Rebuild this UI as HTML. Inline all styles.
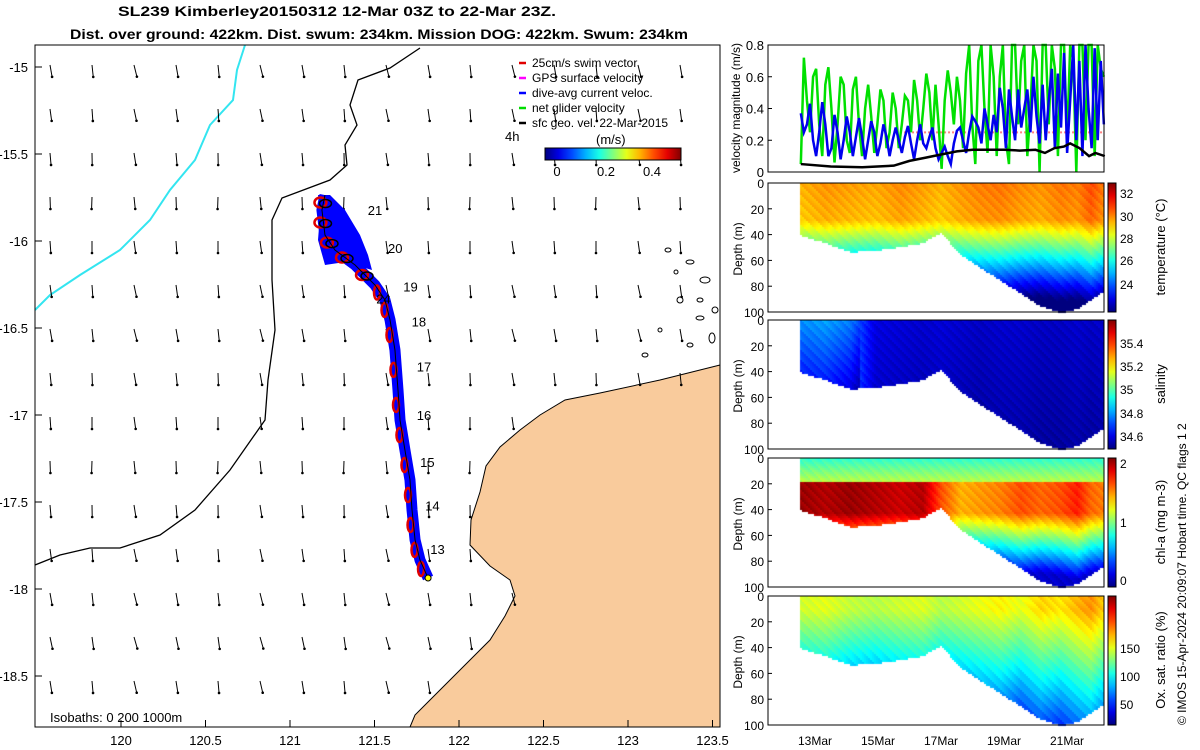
<!DOCTYPE html>
<html><head><meta charset="utf-8"><style>
body{margin:0;background:#fff;}
#wrap{position:relative;width:1200px;height:750px;overflow:hidden;font-family:"Liberation Sans",sans-serif;}
svg text{font-family:"Liberation Sans",sans-serif;}
canvas{position:absolute;left:0;top:0;}
</style></head><body>
<div id="wrap">
<canvas id="cv" width="1200" height="750"></canvas>
<svg id="sv" width="1200" height="750" style="position:absolute;left:0;top:0"></svg>
</div>
<script>
// ---------- data ----------
const lonTicks=[120,120.5,121,121.5,122,122.5,123,123.5];
const latTicks=[-15,-15.5,-16,-16.5,-17,-17.5,-18,-18.5];
const trackLon=[121.817,121.769,121.740,121.722,121.710,121.680,121.651,121.639,121.621,121.592,121.562,121.503,121.385,121.266,121.207,121.189,121.207];
const trackLat=[-17.937,-17.833,-17.718,-17.546,-17.374,-17.201,-17.029,-16.856,-16.626,-16.454,-16.339,-16.253,-16.138,-16.052,-15.966,-15.822,-15.736];
const dayLabels=["13","14","15","16","17","18","19","20","21","24"];
const dayLabelLon=[121.83,121.80,121.77,121.75,121.75,121.72,121.67,121.58,121.46,121.51];
const dayLabelLat=[-17.8,-17.55,-17.3,-17.03,-16.75,-16.49,-16.29,-16.07,-15.85,-16.36];
const arrowAngleByRow=[170,172,175,178,176,172,170,174,176,178,175,172,170,168,171,174];
const velBlue=[0.37,0.25,0.30,0.43,0.20, 0.10,0.25,0.44,0.30,0.10, 0.15,0.36,0.25,0.08,0.20, 0.35,0.25,0.10,0.22,0.34,
 0.22,0.08,0.20,0.32,0.25, 0.10,0.18,0.30,0.22,0.10, 0.20,0.28,0.20,0.12,0.22, 0.29,0.18,0.08,0.20,0.30,
 0.18,0.15,0.22,0.28,0.15, 0.08,0.12,0.16,0.10,0.05, 0.18,0.26,0.28,0.20,0.12, 0.25,0.35,0.32,0.28,0.18,
 0.40,0.30,0.20,0.36,0.25, 0.53,0.40,0.15,0.52,0.35, 0.20,0.52,0.28,0.40,0.52, 0.25,0.60,0.35,0.18,0.55,
 0.20,0.45,0.65,0.15,0.62, 0.28,0.75,0.12,0.45,0.80, 0.20,0.70,0.10,0.80,0.40, 0.15,0.78,0.20,0.70,0.30];
const velGreen=[0.05,0.72,0.45,0.25,0.60, 0.65,0.30,0.10,0.55,0.66, 0.40,0.06,0.30,0.60,0.55, 0.20,0.12,0.52,0.60,0.30,
 0.10,0.40,0.55,0.35,0.12, 0.30,0.52,0.45,0.15,0.25, 0.50,0.40,0.15,0.30,0.48, 0.45,0.25,0.58,0.45,0.20,
 0.40,0.62,0.50,0.20,0.55, 0.30,0.02,0.45,0.64,0.50, 0.30,0.60,0.45,0.15,0.62, 0.80,0.30,0.05,0.70,0.80,
 0.40,0.12,0.80,0.60,0.10, 0.60,0.80,0.20,0.05,0.80, 0.80,0.30,0.70,0.80,0.10, 0.40,0.80,0.70,0.00,0.80,
 0.80,0.30,0.80,0.65,0.10, 0.80,0.80,0.20,0.80,0.70, 0.00,0.80,0.80,0.20,0.80, 0.80,0.10,0.80,0.65,0.60];
const blackDays=[12.55,13.5,14.5,15.5,16.0,16.5,17.0,17.5,18.0,18.5,19.0,19.5,20.0,20.3,20.6,20.9,21.1,21.4,21.7,21.9,22.2];
const velBlack=[0.05,0.035,0.03,0.04,0.07,0.09,0.11,0.13,0.14,0.14,0.14,0.135,0.14,0.12,0.15,0.16,0.18,0.15,0.10,0.12,0.10];
const sectDays=[12.52,13.3,14.1,14.9,15.7,16.4,16.97,17.6,18.2,18.87,19.5,20.14,20.78,21.3,21.73,22.17];
const bottomDepth=[40,46,53,52,49,46,38,55,65,75,85,95,100,97,90,83];
const tempSurf=[29.6,29.9,29.8,29.7,30.0,29.8,29.6,29.9,30.1,30.2,30.0,29.9,30.2,30.1,30.6,30.1];
const salSurf=[34.78,34.80,34.76,34.60,34.59,34.58,34.59,34.58,34.57,34.58,34.58,34.57,34.57,34.58,34.57,34.58];
const chlMax=[1.95,1.9,1.95,1.9,1.85,1.9,1.6,1.4,1.45,1.5,1.6,1.55,1.6,1.7,1.55,1.5];
const oxSurf=[112,115,110,108,112,114,108,112,116,120,115,125,122,130,135,125];
// ---------- helpers ----------
const NS="http://www.w3.org/2000/svg";const sv=document.getElementById('sv');
function el(t,a,p){const e=document.createElementNS(NS,t);for(const k in a)e.setAttribute(k,a[k]);(p||sv).appendChild(e);return e;}
function tx(s,x,y,a,p){const e=el('text',Object.assign({x:x,y:y,'font-size':13,fill:'#000'},a||{}),p);e.textContent=s;return e;}
const mx=lon=>121+(lon-120)*169, my=lat=>67+(-15-lat)*174;
const vx=d=>815+(d-13)*31.5;
function jet(t){t=Math.max(0,Math.min(1,t));const r=Math.max(0,Math.min(1,1.5-Math.abs(4*t-3))),g=Math.max(0,Math.min(1,1.5-Math.abs(4*t-2))),b=Math.max(0,Math.min(1,1.5-Math.abs(4*t-1)));return [r*255|0,g*255|0,b*255|0];}
function interp(xs,ys,x){if(x<=xs[0])return ys[0];for(let i=1;i<xs.length;i++)if(x<=xs[i]){const f=(x-xs[i-1])/(xs[i]-xs[i-1]);return ys[i-1]+f*(ys[i]-ys[i-1]);}return ys[ys.length-1];}
// ---------- title ----------
tx('SL239 Kimberley20150312 12-Mar 03Z to 22-Mar 23Z.',118,16,{'font-weight':'bold','font-size':14,textLength:438,lengthAdjust:'spacingAndGlyphs',});
tx('Dist. over ground: 422km. Dist. swum: 234km. Mission DOG: 422km. Swum: 234km',70,39,{'font-weight':'bold','font-size':14,textLength:618,lengthAdjust:'spacingAndGlyphs',});
// ---------- map ----------
const mapG=el('g',{});
el('rect',{x:35,y:45,width:685,height:682,fill:'#fff'},mapG);
const land=[[720,365],[700,370],[660,380],[600,393],[565,400],[540,415],[520,430],[500,447],[486,466],[480,492],[471,520],[470,545],[490,566],[510,580],[515,596],[505,616],[490,640],[470,660],[450,680],[430,700],[415,715],[410,727],[720,727]];
el('polygon',{points:land.map(p=>p.join(',')).join(' '),fill:'#f9cb9c',stroke:'#000','stroke-width':1,},mapG);
const isl=[[668,250,3,2],[690,262,4,2],[705,280,5,3],[680,300,3,3],[700,318,4,2],[712,338,3,5],[660,330,2,2],[690,345,3,2],[676,272,2,2],[645,355,3,2],[700,300,3,2],[715,310,3,3]];
isl.forEach(i=>el('ellipse',{cx:i[0],cy:i[1],rx:i[2],ry:i[3],fill:'#fff',stroke:'#000','stroke-width':1,},mapG));
el('polyline',{points:'245,45 237,70 233,100 210,125 195,160 170,190 150,220 120,250 80,275 50,295 35,310',fill:'none',stroke:'#33e5f0','stroke-width':2,},mapG);
el('polyline',{points:'420,48 390,68 358,80 350,105 357,125 345,145 347,165 330,180 282,198 272,220 272,280 275,330 268,380 265,420 230,470 195,510 160,535 120,548 90,548 60,555 35,565',fill:'none',stroke:'#000','stroke-width':1.3,},mapG);
function inLand(x,y){let c=false;for(let i=0,j=land.length-1;i<land.length;j=i++){const [xi,yi]=land[i],[xj,yj]=land[j];if(((yi>y)!=(yj>y))&&(x<(xj-xi)*(y-yi)/(yj-yi)+xi))c=!c;}return c;}
let r=0;for(let y=65;y<720;y+=44,r++){for(let x=50;x<715;x+=42){if(inLand(x,y))continue;const a=(arrowAngleByRow[r]+((x/42|0)%3-1)*4)*Math.PI/180;const L=12;const x2=x+L*Math.sin(a),y2=y-L*Math.cos(a);
const ar=el('line',{x1:x,y1:y,x2:x2,y2:y2,stroke:'#000','stroke-width':1},mapG);
el('circle',{cx:x2,cy:y2,r:1.3,fill:'#000'},mapG);}}
// track
const tp=trackLon.map((l,i)=>[mx(l),my(trackLat[i])]);
el('polygon',{points:'318,195 330,195 345,210 360,235 368,255 372,270 345,262 325,265 318,240 320,215',fill:'#0000ff',},mapG);
el('polyline',{points:tp.map(p=>p.join(',')).join(' '),fill:'none',stroke:'#0000ff','stroke-width':11,'stroke-linejoin':'round',},mapG);
for(let i=1;i<tp.length;i++){const [x1,y1]=tp[i-1],[x2,y2]=tp[i];const big=i>11;const e=el('ellipse',{cx:(x1+x2)/2-3,cy:(y1+y2)/2,rx:big?6:3,ry:big?5:7,fill:'none',stroke:'#e00000','stroke-width':2.5},mapG);
 if(big){const b=el('ellipse',{cx:(x1+x2)/2+2,cy:(y1+y2)/2+1,rx:6,ry:4,fill:'none',stroke:'#000','stroke-width':1.5},mapG);}}
el('polyline',{points:tp.map(p=>p.join(',')).join(' '),fill:'none',stroke:'#000','stroke-width':1,},mapG);
el('circle',{cx:tp[0][0],cy:tp[0][1],r:3,fill:'#ff0','stroke':'#000',},mapG);
dayLabels.forEach((d,i)=>tx(d,mx(dayLabelLon[i]),my(dayLabelLat[i]),{},mapG));
tx('4h',505,141,{},mapG);
el('rect',{x:35,y:45,width:685,height:682,fill:'none',stroke:'#000','stroke-width':1,},mapG);
lonTicks.forEach(l=>{el('line',{x1:mx(l),y1:727,x2:mx(l),y2:720,stroke:'#000'},mapG);tx(String(l),mx(l),745,{'text-anchor':'middle',},mapG);});
latTicks.forEach(l=>{el('line',{x1:35,y1:my(l),x2:42,y2:my(l),stroke:'#000'},mapG);tx(String(l),28,my(l)+5,{'text-anchor':'end',},mapG);});
tx('Isobaths: 0   200   1000m',50,722,{'xml:space':'preserve',},mapG);
// legend
const lg=el('g',{});
const le=[['25cm/s swim vector','#e00000'],['GPS surface velocity','#ff00ff'],['dive-avg current veloc.','#0000ff'],['net glider velocity','#00dd00'],['sfc geo. vel. 22-Mar-2015','#000']];
le.forEach((e,i)=>{const y=67+i*15;el('line',{x1:519,y1:y-4,x2:526,y2:y-4,stroke:e[1],'stroke-width':2.5},lg);tx(e[0],532,y,{'font-size':12,},lg);});
tx('(m/s)',596,144,{'font-size':13,},lg);
const gd=el('defs',{});const lgr=el('linearGradient',{id:'jh',x1:0,y1:0,x2:1,y2:0},gd);const lgv=el('linearGradient',{id:'jv',x1:0,y1:1,x2:0,y2:0},gd);
for(let i=0;i<=10;i++){const c=jet(i/10);el('stop',{offset:i/10,'stop-color':`rgb(${c})`},lgr);el('stop',{offset:i/10,'stop-color':`rgb(${c})`},lgv);}
el('rect',{x:545,y:148,width:136,height:12,fill:'url(#jh)',stroke:'#000',},lg);
[['0',557],['0.2',606],['0.4',652]].forEach(t=>tx(t[0],t[1],176,{'text-anchor':'middle',},lg));
// ---------- velocity panel ----------
const vp=el('g',{});
const vy=v=>172-v/0.8*127;
const vd=i=>12.55+i*(22.17-12.55)/(velBlue.length-1);
el('line',{x1:vx(15.7),y1:vy(0.25),x2:1104,y2:vy(0.25),stroke:'#ff8080','stroke-width':2,'stroke-dasharray':'2,2',},vp);
el('polyline',{points:velGreen.map((v,i)=>vx(vd(i))+','+vy(v)).join(' '),fill:'none',stroke:'#00e000','stroke-width':2.5,},vp);
el('polyline',{points:velBlue.map((v,i)=>vx(vd(i))+','+vy(v)).join(' '),fill:'none',stroke:'#0000ee','stroke-width':2.5,},vp);
el('polyline',{points:blackDays.map((d,i)=>vx(d)+','+vy(velBlack[i])).join(' '),fill:'none',stroke:'#000','stroke-width':2.5,},vp);
el('rect',{x:768,y:45,width:336,height:127,fill:'none',stroke:'#000',},vp);
[0,0.2,0.4,0.6,0.8].forEach(v=>{tx(String(v),764,vy(v)+5,{'text-anchor':'end',},vp);el('line',{x1:768,y1:vy(v),x2:772,y2:vy(v),stroke:'#000'},vp);});
tx('velocity magnitude (m/s)',0,0,{transform:'translate(740,108) rotate(-90)','text-anchor':'middle','font-size':12,},vp);
// ---------- sections ----------
const panels=[
 {top:183,name:'temperature',lab:'temperature (°C)',ticks:[[32,193],[30,216],[28,238],[26,260],[24,284]],min:22.8,max:32.5,f:(d,z)=>{const s=interp(sectDays,tempSurf,d);return s-Math.max(0,z-28)*0.105-z*0.01;}},
 {top:320,name:'salinity',lab:'salinity',ticks:[[35.4,343],[35.2,366],[35,389],[34.8,413],[34.6,436]],min:34.5,max:35.55,f:(d,z)=>{const s=interp(sectDays,salSurf,d);return s-(s>34.7?z*0.003:z*0.0004);}},
 {top:458,name:'chl-a',lab:'chl-a (mg m-3)',ticks:[[2,463],[1,522],[0,580]],min:0,max:2,f:(d,z)=>{const m=interp(sectDays,chlMax,d);if(z<18)return 0.85+z*0.015;if(z<42)return m;return Math.max(0.15,m-(z-42)*0.03);}},
 {top:596,name:'oxygen',lab:'Ox. sat. ratio (%)',ticks:[[150,648],[100,676],[50,704]],min:25,max:175,f:(d,z)=>{const s=interp(sectDays,oxSurf,d);return s-Math.max(0,z-10)*0.8;}}];
const cv=document.getElementById('cv').getContext('2d');
panels.forEach(p=>{
 const g=el('g',{});
 const zy=z=>p.top+z*1.29;
 for(let x=800;x<1104;x+=2){const d=13+(x-815)/31.5;const bd=interp(sectDays,bottomDepth,d);
  for(let y=p.top;y<zy(bd);y+=2){const z=(y-p.top)/1.29;const v=p.f(d,z)+((x*7+y*3)%5-2)*0.01*(p.max-p.min);const c=jet((v-p.min)/(p.max-p.min));cv.fillStyle=`rgb(${c})`;cv.fillRect(x,y,2,2);}}
 el('rect',{x:768,y:p.top,width:336,height:129,fill:'none',stroke:'#000',},g);
 [0,20,40,60,80,100].forEach(z=>{tx(String(z),764,zy(z)+5,{'text-anchor':'end','font-size':12,},g);el('line',{x1:768,y1:zy(z),x2:772,y2:zy(z),stroke:'#000'},g);});
 tx('Depth (m)',0,0,{transform:`translate(742,${p.top+66}) rotate(-90)`,'text-anchor':'middle','font-size':12,},g);
 el('rect',{x:1108,y:p.top,width:8,height:129,fill:'url(#jv)',stroke:'#000',},g);
 p.ticks.forEach(t=>tx(String(t[0]),1120,t[1]+5,{'font-size':12,},g));
 tx(p.lab,0,0,{transform:`translate(1165,${p.top+64}) rotate(-90)`,'text-anchor':'middle','font-size':13,},g);
});
[['13Mar',13],['15Mar',15],['17Mar',17],['19Mar',19],['21Mar',21]].forEach(t=>{tx(t[0],vx(t[1]),745,{'text-anchor':'middle','font-size':12,});});
tx('© IMOS 15-Apr-2024 20:09:07 Hobart time. QC flags 1  2',0,0,{transform:'translate(1186,725) rotate(-90)','font-size':12,'xml:space':'preserve',});
</script>
</body></html>
